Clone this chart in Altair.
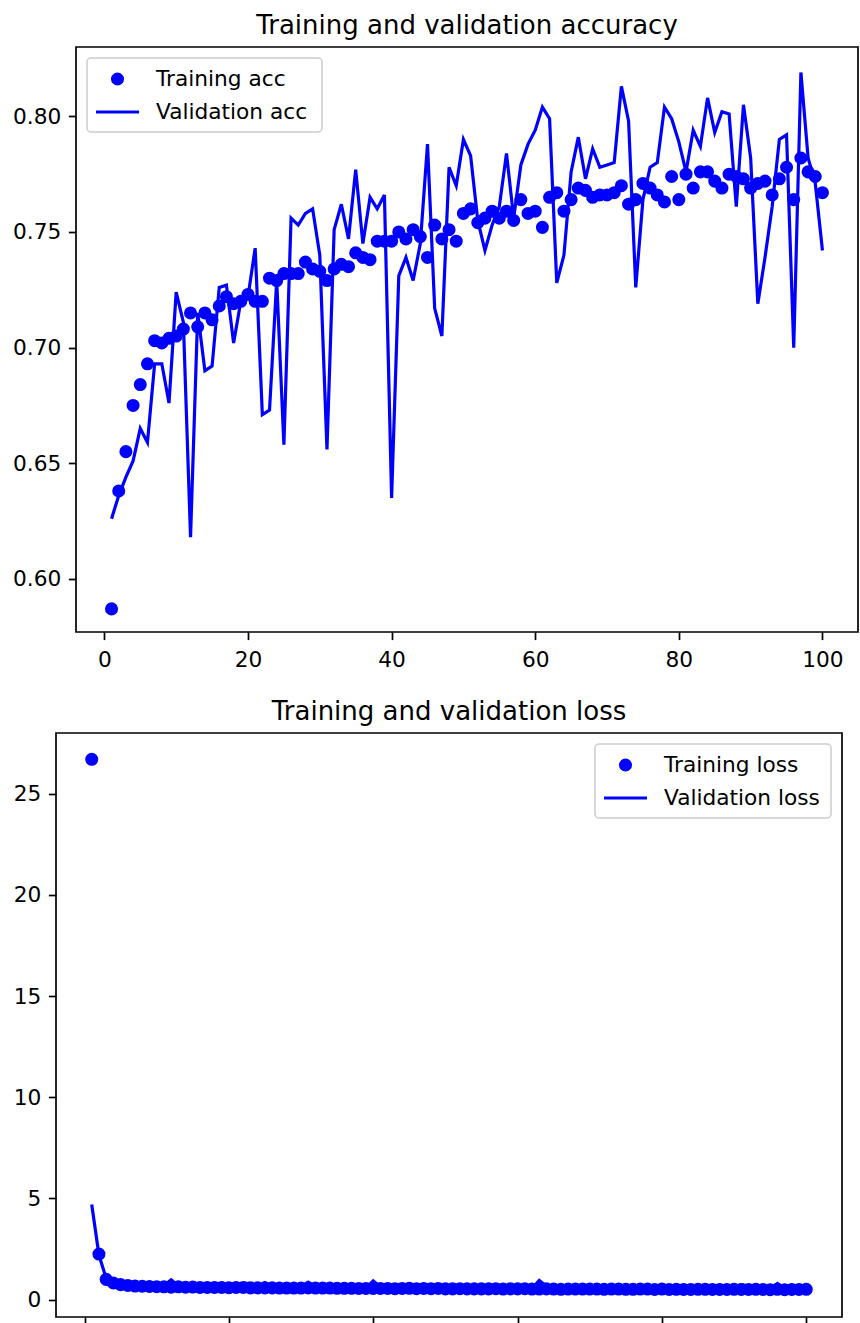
import altair as alt
import pandas as pd

epochs = list(range(1, 101))

train_acc = [
    0.587, 0.638, 0.655, 0.675, 0.684, 0.693, 0.703, 0.702, 0.704, 0.705,
    0.708, 0.715, 0.709, 0.715, 0.712, 0.718, 0.722, 0.719, 0.720, 0.723,
    0.720, 0.720, 0.730, 0.729, 0.732, 0.732, 0.732, 0.737, 0.734, 0.733,
    0.729, 0.734, 0.736, 0.735, 0.741, 0.739, 0.738, 0.746, 0.746, 0.746,
    0.750, 0.747, 0.751, 0.748, 0.739, 0.753, 0.747, 0.751, 0.746, 0.758,
    0.760, 0.754, 0.756, 0.759, 0.756, 0.759, 0.755, 0.764, 0.758, 0.759,
    0.752, 0.765, 0.767, 0.759, 0.764, 0.769, 0.768, 0.765, 0.766, 0.766,
    0.767, 0.770, 0.762, 0.764, 0.771, 0.769, 0.766, 0.763, 0.774, 0.764,
    0.775, 0.769, 0.776, 0.776, 0.772, 0.769, 0.775, 0.774, 0.773, 0.769,
    0.771, 0.772, 0.766, 0.773, 0.778, 0.764, 0.782, 0.776, 0.774, 0.767,
]

val_acc = [
    0.626, 0.636, 0.644, 0.651, 0.665, 0.659, 0.693, 0.693, 0.676, 0.724,
    0.711, 0.618, 0.715, 0.690, 0.692, 0.726, 0.727, 0.702, 0.720, 0.722,
    0.743, 0.671, 0.673, 0.729, 0.658, 0.756, 0.753, 0.758, 0.760, 0.740,
    0.656, 0.751, 0.762, 0.747, 0.777, 0.745, 0.765, 0.760, 0.766, 0.635,
    0.731, 0.739, 0.729, 0.745, 0.788, 0.717, 0.705, 0.778, 0.770, 0.790,
    0.783, 0.755, 0.742, 0.753, 0.761, 0.784, 0.756, 0.779, 0.788, 0.794,
    0.804, 0.799, 0.728, 0.740, 0.776, 0.791, 0.773, 0.786, 0.778, 0.779,
    0.780, 0.813, 0.798, 0.726, 0.764, 0.778, 0.780, 0.804, 0.799, 0.789,
    0.776, 0.794, 0.787, 0.808, 0.793, 0.802, 0.801, 0.761, 0.805, 0.782,
    0.719, 0.739, 0.761, 0.790, 0.792, 0.700, 0.819, 0.782, 0.771, 0.742,
]

train_loss = [
    26.7, 2.25, 1.0, 0.82, 0.74, 0.70, 0.67, 0.66, 0.65, 0.64,
    0.63, 0.61, 0.63, 0.61, 0.62, 0.60, 0.60, 0.60, 0.60, 0.59,
    0.60, 0.60, 0.58, 0.58, 0.58, 0.58, 0.57, 0.57, 0.57, 0.57,
    0.58, 0.57, 0.57, 0.57, 0.56, 0.56, 0.56, 0.55, 0.55, 0.55,
    0.55, 0.55, 0.54, 0.55, 0.56, 0.54, 0.55, 0.54, 0.55, 0.53,
    0.53, 0.54, 0.53, 0.53, 0.53, 0.53, 0.54, 0.52, 0.53, 0.53,
    0.54, 0.52, 0.52, 0.53, 0.52, 0.51, 0.52, 0.52, 0.52, 0.52,
    0.52, 0.51, 0.52, 0.52, 0.51, 0.51, 0.52, 0.52, 0.50, 0.52,
    0.50, 0.51, 0.50, 0.50, 0.51, 0.51, 0.50, 0.50, 0.50, 0.51,
    0.50, 0.50, 0.51, 0.50, 0.49, 0.51, 0.49, 0.50, 0.50, 0.51,
]

val_loss = [
    4.7, 2.2, 1.05, 0.88, 0.80, 0.82, 0.72, 0.72, 0.76, 0.66,
    0.70, 0.98, 0.68, 0.74, 0.73, 0.65, 0.65, 0.71, 0.66, 0.66,
    0.62, 0.80, 0.79, 0.64, 0.84, 0.60, 0.61, 0.60, 0.59, 0.63,
    0.86, 0.61, 0.59, 0.62, 0.56, 0.62, 0.58, 0.59, 0.58, 0.92,
    0.64, 0.63, 0.65, 0.61, 0.54, 0.70, 0.74, 0.56, 0.57, 0.54,
    0.55, 0.60, 0.63, 0.60, 0.58, 0.55, 0.60, 0.56, 0.55, 0.54,
    0.53, 0.54, 0.95, 0.66, 0.57, 0.55, 0.58, 0.55, 0.56, 0.56,
    0.56, 0.51, 0.53, 0.72, 0.61, 0.57, 0.57, 0.53, 0.54, 0.55,
    0.58, 0.54, 0.56, 0.53, 0.55, 0.54, 0.54, 0.62, 0.53, 0.57,
    0.74, 0.67, 0.62, 0.56, 0.55, 0.80, 0.52, 0.57, 0.59, 0.65,
]

epoch_ticks = [0, 20, 40, 60, 80, 100]
acc_ticks = [0.60, 0.65, 0.70, 0.75, 0.80]
loss_ticks = [0, 5, 10, 15, 20, 25]
acc_labels = ["Training acc", "Validation acc"]
loss_labels = ["Training loss", "Validation loss"]
acc_title = "Training and validation accuracy"
loss_title = "Training and validation loss"

BLUE = "#0000ff"
FONT = "DejaVu Sans"
FS = 21.7
TITLE_FS = 26
DOT = 170
LW = 3.2


def panel(train, val, labels, title, ydomain, yticks, yfmt, x0, plot_w, height, box_x, box_w):
    """x0: left inset of the framed plot area inside the view; plot_w: frame width."""
    df = pd.DataFrame({"epoch": epochs, "train": train, "val": val})
    xenc = alt.X(
        "epoch:Q",
        scale=alt.Scale(domain=[-3.95, 104.95], nice=False, zero=False, range=[x0, x0 + plot_w]),
        axis=alt.Axis(values=epoch_ticks, title=None, format="d"),
    )
    yscale = alt.Scale(domain=ydomain, nice=False, zero=False)
    yaxis = alt.Axis(values=yticks, title=None, format=yfmt, offset=-x0) if x0 else \
        alt.Axis(values=yticks, title=None, format=yfmt)
    base = alt.Chart(df)
    line = base.mark_line(color=BLUE, strokeWidth=LW, clip=True).encode(
        x=xenc, y=alt.Y("val:Q", scale=yscale, axis=yaxis),
    )
    pts = base.mark_circle(color=BLUE, size=DOT, opacity=1, clip=True).encode(
        x=xenc, y=alt.Y("train:Q", scale=yscale)
    )
    one = pd.DataFrame({"k": [0]})
    lg = alt.Chart(one)
    frame = lg.mark_rect(fillOpacity=0, fill="white", stroke="black", strokeWidth=1.7).encode(
        x=alt.value(x0), x2=alt.value(x0 + plot_w), y=alt.value(0), y2=alt.value(height)
    )
    ttl = lg.mark_text(
        text=title, align="center", baseline="alphabetic", font=FONT, fontSize=TITLE_FS,
        color="black",
    ).encode(x=alt.value(x0 + plot_w / 2), y=alt.value(-13))
    box = lg.mark_rect(
        fill="white", fillOpacity=0.8, stroke="#cccccc", strokeWidth=1.5, cornerRadius=4
    ).encode(x=alt.value(box_x), x2=alt.value(box_x + box_w), y=alt.value(11), y2=alt.value(85))
    hx0 = box_x + 9
    hx1 = hx0 + 43
    dot = lg.mark_circle(color=BLUE, size=DOT, opacity=1).encode(
        x=alt.value((hx0 + hx1) / 2), y=alt.value(32)
    )
    rule = lg.mark_rule(color=BLUE, strokeWidth=LW).encode(
        x=alt.value(hx0), x2=alt.value(hx1), y=alt.value(65)
    )
    t1 = lg.mark_text(
        text=labels[0], align="left", baseline="middle", font=FONT, fontSize=FS, color="black"
    ).encode(x=alt.value(hx1 + 17), y=alt.value(32))
    t2 = lg.mark_text(
        text=labels[1], align="left", baseline="middle", font=FONT, fontSize=FS, color="black"
    ).encode(x=alt.value(hx1 + 17), y=alt.value(65))
    return alt.layer(line, pts, frame, ttl, box, dot, rule, t1, t2).properties(
        width=x0 + plot_w, height=height
    )


top = panel(train_acc, val_acc, acc_labels, acc_title,
            [0.577, 0.830], acc_ticks, ".2f", 20, 782, 585, 20 + 11, 235)
bottom = panel(train_loss, val_loss, loss_labels, loss_title,
               [-0.86, 28.0], loss_ticks, "d", 0, 786, 584, 786 - 11 - 236, 236)

chart = alt.vconcat(top, bottom, spacing=28).properties(
    padding={"left": 12, "top": 13, "right": 0, "bottom": 0},
    background="white",
).configure_view(
    stroke="transparent", strokeWidth=0
).configure_axis(
    labelFont=FONT, labelFontSize=FS, labelColor="black", domain=False, grid=False,
    ticks=True, tickSize=7.6, tickWidth=1.7, tickColor="black", labelPadding=7.6,
).configure_axisX(
    labelPadding=9.5
)

chart.save("out.html", embed_options={"renderer": "svg", "actions": False})
